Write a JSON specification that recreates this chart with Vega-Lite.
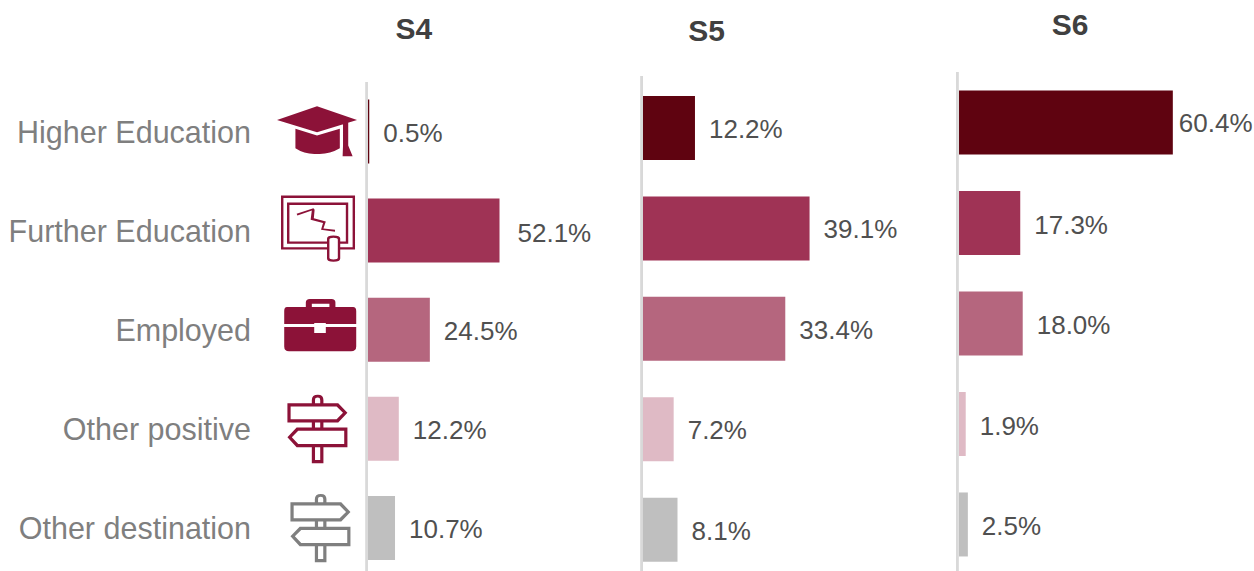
{"$schema":"https://vega.github.io/schema/vega-lite/v6.json","padding":0,"background":"white","spacing":0,"bounds":"flush","config":{"view":{"stroke":null},"axis":{"disable":true},"concat":{"spacing":0},"text":{"font":"Liberation Sans"}},"datasets":{"rows":[
{"stage":"S4","outcome":"Higher Education","rank":1,"value":0.5,"label":"0.5%"},
{"stage":"S4","outcome":"Further Education","rank":2,"value":52.1,"label":"52.1%"},
{"stage":"S4","outcome":"Employed","rank":3,"value":24.5,"label":"24.5%"},
{"stage":"S4","outcome":"Other positive","rank":4,"value":12.2,"label":"12.2%"},
{"stage":"S4","outcome":"Other destination","rank":5,"value":10.7,"label":"10.7%"},
{"stage":"S5","outcome":"Higher Education","rank":1,"value":12.2,"label":"12.2%"},
{"stage":"S5","outcome":"Further Education","rank":2,"value":39.1,"label":"39.1%"},
{"stage":"S5","outcome":"Employed","rank":3,"value":33.4,"label":"33.4%"},
{"stage":"S5","outcome":"Other positive","rank":4,"value":7.2,"label":"7.2%"},
{"stage":"S5","outcome":"Other destination","rank":5,"value":8.1,"label":"8.1%"},
{"stage":"S6","outcome":"Higher Education","rank":1,"value":60.4,"label":"60.4%"},
{"stage":"S6","outcome":"Further Education","rank":2,"value":17.3,"label":"17.3%"},
{"stage":"S6","outcome":"Employed","rank":3,"value":18.0,"label":"18.0%"},
{"stage":"S6","outcome":"Other positive","rank":4,"value":1.9,"label":"1.9%"},
{"stage":"S6","outcome":"Other destination","rank":5,"value":2.5,"label":"2.5%"}
]},"hconcat":[
{"width":643,"height":571,"data":{"name":"rows"},"transform":[{"filter":"datum.stage==='S4'"}],
"encoding":{"x":{"field":"value","type":"quantitative","scale":{"domain":[-145.8,108.95],"nice":false,"zero":false}},"y":{"field":"rank","type":"quantitative","scale":{"domain":[-0.327,5.435],"reverse":true,"nice":false,"zero":false,"padding":0}}},
"layer":[
{"mark":{"type":"rule","color":"#d9d9d9","strokeWidth":2},"encoding":{"x":{"datum":-0.5},"y":{"datum":0.5},"y2":{"datum":5.435}}},
{"mark":{"type":"bar","orient":"horizontal","size":64},"encoding":{"color":{"field":"outcome","type":"nominal","legend":null,"sort":null,"scale":{"domain":["Higher Education","Further Education","Employed","Other positive","Other destination"],"range":["#5f0310","#9f3355","#b5667e","#dfbac5","#bfbfbf"]}}}},
{"transform":[{"filter":"datum.outcome!=='Further Education'"}],"mark":{"type":"text","align":"left","baseline":"middle","dx":14,"dy":2,"fontSize":26,"color":"#505050"},"encoding":{"text":{"field":"label"}}},
{"transform":[{"filter":"datum.outcome==='Further Education'"}],"mark":{"type":"text","align":"left","baseline":"middle","dx":18,"dy":3,"fontSize":26,"color":"#505050"},"encoding":{"text":{"field":"label"}}},
{"mark":{"type":"text","align":"right","baseline":"middle","dy":2,"fontSize":30.5,"color":"#7f7f7f"},"encoding":{"x":{"datum":-46.35},"text":{"field":"outcome"}}},
{"transform":[{"filter":"datum.outcome!=='Other destination'"}],"mark":{"type":"point","filled":true,"opacity":1,"size":6400,"strokeWidth":0},"encoding":{"x":{"datum":-20.2},"shape":{"field":"outcome","type":"nominal","legend":null,"scale":{"domain":["Higher Education","Further Education","Employed","Other positive","Other destination"],"range":[
"M0,-.63L1,-.29L0,.02L-1,-.29ZM-.54,-.07L0,.1L.57,-.07L.57,.42Q.3,.58 0,.56Q-.3,.58 -.54,.42ZM.65,-.2L.78,-.24L.78,.35L.89,.62L.64,.62L.65,.35Z",
"M.25,.475H-.9V-.875H.95V.475H.58V.415H.89V-.815H-.84V.415H.25ZM.25,.33H-.75V-.7H.78V.33H.58V.27H.72V-.64H-.69V.27H.25ZM.25,.2Q.25,.12 .41,.12Q.58,.12 .58,.2V.7Q.58,.78 .41,.78Q.25,.78 .25,.7ZM.31,.22V.68Q.31,.72 .41,.72Q.52,.72 .52,.68V.22Q.52,.18 .41,.18Q.31,.18 .31,.22ZM-.51,-.42L-.09,-.56L-.06,-.52L-.08,-.31L.22,-.23L.16,-.05L.45,-.02L.45,.03L.1,-.02L.15,-.19L-.16,-.27L-.13,-.5L-.49,-.38Z",
"M-.75,-.57H.9Q.98,-.57 .98,-.47V-.14H.22V-.17H-.07V-.14H-.82V-.47Q-.82,-.57 -.75,-.57ZM-.82,-.07H-.07V.08H.22V-.07H.98V.42Q.98,.54 .85,.54H-.7Q-.82,.54 -.82,.42ZM-.28,-.57V-.68Q-.28,-.77 -.18,-.77H.36Q.46,-.77 .46,-.68V-.57H.31V-.65H-.13V-.57Z",
"M-.74,-.64H.53L.76,-.4L.53,-.16H-.74ZM-.66,-.56V-.24H.49L.65,-.4L.49,-.56ZM-.51,-.03H.76V.46H-.51L-.74,.21ZM-.47,.05L-.63,.21L-.47,.38H.68V.05ZM-.13,-.64V-.72Q-.13,-.85 .02,-.85Q.16,-.85 .16,-.72V-.64H.08V-.72Q.08,-.78 .02,-.78Q-.05,-.78 -.05,-.72V-.64ZM-.13,-.16H-.05V-.03H-.13ZM.08,-.16H.16V-.03H.08ZM-.13,.46H-.05V.78H.08V.46H.16V.86H-.13Z",
"M-.74,-.64H.53L.76,-.4L.53,-.16H-.74ZM-.66,-.56V-.24H.49L.65,-.4L.49,-.56ZM-.51,-.03H.76V.46H-.51L-.74,.21ZM-.47,.05L-.63,.21L-.47,.38H.68V.05ZM-.13,-.64V-.72Q-.13,-.85 .02,-.85Q.16,-.85 .16,-.72V-.64H.08V-.72Q.08,-.78 .02,-.78Q-.05,-.78 -.05,-.72V-.64ZM-.13,-.16H-.05V-.03H-.13ZM.08,-.16H.16V-.03H.08ZM-.13,.46H-.05V.78H.08V.46H.16V.86H-.13Z"
]}},"fill":{"value":"#8c1238"}}},
{"transform":[{"filter":"datum.outcome==='Other destination'"}],"mark":{"type":"point","filled":true,"opacity":1,"size":6400,"strokeWidth":0},"encoding":{"x":{"datum":-19},"shape":{"field":"outcome","type":"nominal","legend":null},"fill":{"value":"#7f7f7f"}}},
{"transform":[{"filter":"datum.rank===1"}],"mark":{"type":"text","align":"center","baseline":"middle","fontSize":30,"fontWeight":"bold","color":"#404040"},"encoding":{"x":{"datum":18.2},"y":{"datum":-0.024},"text":{"field":"stage"}}}
]},
{"width":316,"height":571,"data":{"name":"rows"},"transform":[{"filter":"datum.stage==='S5'"}],
"encoding":{"x":{"field":"value","type":"quantitative","scale":{"domain":[0,74.18],"nice":false,"zero":false}},"y":{"field":"rank","type":"quantitative","scale":{"domain":[-0.275,5.412],"reverse":true,"nice":false,"zero":false,"padding":0}}},
"layer":[
{"mark":{"type":"rule","color":"#d9d9d9","strokeWidth":2},"encoding":{"x":{"datum":-0.3},"y":{"datum":0.482},"y2":{"datum":5.412}}},
{"mark":{"type":"bar","orient":"horizontal","size":64},"encoding":{"color":{"field":"outcome","type":"nominal","legend":null,"sort":null,"scale":{"domain":["Higher Education","Further Education","Employed","Other positive","Other destination"],"range":["#5f0310","#9f3355","#b5667e","#dfbac5","#bfbfbf"]}}}},
{"mark":{"type":"text","align":"left","baseline":"middle","dx":14,"dy":2,"fontSize":26,"color":"#505050"},"encoding":{"text":{"field":"label"}}},
{"transform":[{"filter":"datum.rank===1"}],"mark":{"type":"text","align":"center","baseline":"middle","fontSize":30,"fontWeight":"bold","color":"#404040"},"encoding":{"x":{"datum":14.9},"y":{"datum":0.044},"text":{"field":"stage"}}}
]},
{"width":295,"height":571,"data":{"name":"rows"},"transform":[{"filter":"datum.stage==='S6'"}],
"encoding":{"x":{"field":"value","type":"quantitative","scale":{"domain":[0,83.33],"nice":false,"zero":false}},"y":{"field":"rank","type":"quantitative","scale":{"domain":[-0.219,5.463],"reverse":true,"nice":false,"zero":false,"padding":0}}},
"layer":[
{"mark":{"type":"rule","color":"#d9d9d9","strokeWidth":2},"encoding":{"x":{"datum":-0.48},"y":{"datum":0.497},"y2":{"datum":5.463}}},
{"mark":{"type":"bar","orient":"horizontal","size":64},"encoding":{"color":{"field":"outcome","type":"nominal","legend":null,"sort":null,"scale":{"domain":["Higher Education","Further Education","Employed","Other positive","Other destination"],"range":["#5f0310","#9f3355","#b5667e","#dfbac5","#bfbfbf"]}}}},
{"transform":[{"filter":"datum.outcome!=='Higher Education'"}],"mark":{"type":"text","align":"left","baseline":"middle","dx":14,"dy":3,"fontSize":26,"color":"#505050"},"encoding":{"text":{"field":"label"}}},
{"transform":[{"filter":"datum.outcome==='Higher Education'"}],"mark":{"type":"text","align":"left","baseline":"middle","dx":6,"dy":1,"fontSize":26,"color":"#505050"},"encoding":{"text":{"field":"label"}}},
{"transform":[{"filter":"datum.rank===1"}],"mark":{"type":"text","align":"center","baseline":"middle","fontSize":30,"fontWeight":"bold","color":"#404040"},"encoding":{"x":{"datum":31.4},"y":{"datum":0.04},"text":{"field":"stage"}}}
]}
]}
